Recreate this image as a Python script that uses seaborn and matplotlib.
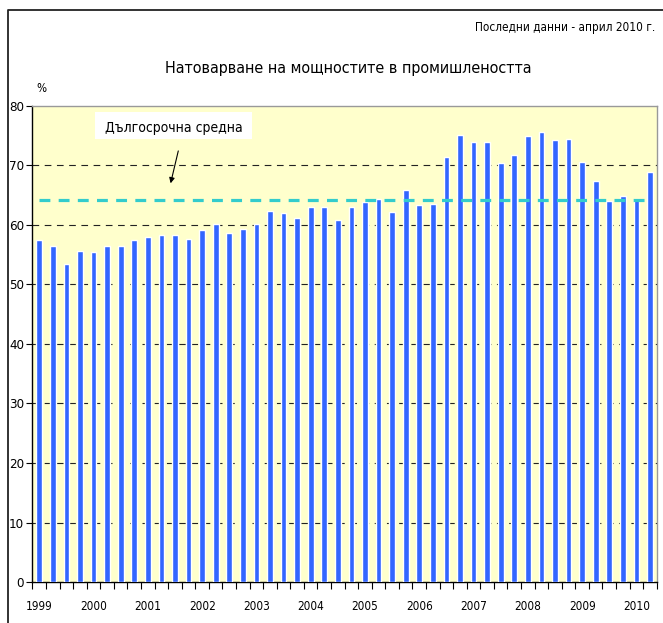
import matplotlib
matplotlib.use("Agg")
import matplotlib.pyplot as plt
import matplotlib.patches as mpatches
from matplotlib.lines import Line2D
import numpy as np
import pandas as pd
import seaborn as sns

# capacity utilisation in industry, quarterly, 1999 Q1 - 2010 Q2 (%)
years = [str(y) for y in range(1999, 2011)]
quarters = [f"{y}-Q{q}" for y in range(1999, 2011) for q in range(1, 5)][:46]
values = [57.5, 56.5, 53.4, 55.7, 55.4, 56.5, 56.5, 57.5,
          58.0, 58.4, 58.4, 57.7, 59.2, 60.2, 58.7, 59.4,
          60.2, 62.4, 62.0, 61.2, 63.1, 63.1, 60.9, 63.1,
          63.8, 64.4, 62.2, 65.8, 63.3, 63.6, 71.5, 75.1,
          74.0, 74.0, 70.5, 71.8, 75.0, 75.6, 74.3, 74.5,
          70.6, 67.4, 64.0, 64.8, 64.4, 68.9]
long_term_mean = 64.2

df = pd.DataFrame({"period": quarters, "value": values})

sns.set_theme(style="white")
plt.rcParams["font.family"] = ["DejaVu Sans"]
plt.rcParams["font.stretch"] = "condensed"

fig = plt.figure(figsize=(6.63, 6.23), dpi=100)
ax = fig.add_axes([0.049, 0.0658, 0.9416, 0.7641])
ax.set_facecolor("#FFFFCC")

sns.barplot(data=df, x="period", y="value", order=quarters, color="#3366FF",
            width=0.42, saturation=1, ax=ax, zorder=3)

# dashed gridlines
for v in range(10, 80, 10):
    ax.axhline(v, color="#222222", lw=0.8, ls=(0, (6, 5)), zorder=1)

# long-term average
ax.plot([0, len(values) - 1], [long_term_mean, long_term_mean], color="#33CCCC",
        lw=2.3, ls=(0, (3.4, 2.6)), zorder=4)

ax.set_xlim(-0.5, len(values) - 0.5)
ax.set_ylim(0, 80)
ax.set_yticks(range(0, 81, 10))
ax.set_xticks([4 * i for i in range(len(years))])
ax.set_xticklabels(years)
ax.set_xticks(np.arange(-0.5, len(values), 1), minor=True)
ax.tick_params(axis="x", which="major", length=0, pad=13, labelsize=8.5, colors="black")
ax.tick_params(axis="x", which="minor", length=5, width=0.8, direction="out", color="black", bottom=True)
ax.tick_params(axis="y", length=4, width=0.8, direction="out", left=True, labelsize=9.5, colors="black", pad=2)
ax.set_xlabel("")
ax.set_ylabel("")

for side in ["left", "bottom"]:
    ax.spines[side].set_color("black")
    ax.spines[side].set_linewidth(1.0)
for side in ["top", "right"]:
    ax.spines[side].set_color("#999999")
    ax.spines[side].set_linewidth(1.0)

# label box and arrow
ax.add_patch(mpatches.Rectangle((4.1, 74.45), 11.57, 4.55, facecolor="white",
                                edgecolor="none", zorder=5))
ax.text(9.93, 76.3, "Дългосрочна средна", ha="center", va="center",
        fontsize=10, color="black", zorder=6)
ax.annotate("", xy=(9.63, 66.55), xytext=(10.29, 72.9),
            arrowprops=dict(arrowstyle="-|>", color="black", lw=0.8,
                            mutation_scale=8), zorder=6)

fig.text(348 / 663, 1 - 68 / 623, "Натоварване на мощностите в промишлеността",
         ha="center", va="center", fontsize=11.5, color="black")
fig.text(655 / 663, 1 - 28 / 623, "Последни данни - април 2010 г.",
         ha="right", va="center", fontsize=8.5, color="black")
fig.text(41 / 663, 1 - 88 / 623, "%", ha="center", va="center", fontsize=8.5, color="black")

# outer chart frame
fig.add_artist(Line2D([8 / 663, 8 / 663, 1.0], [0.0, 1 - 10 / 623, 1 - 10 / 623],
                      transform=fig.transFigure, color="#222222", lw=1.3))

fig.savefig("out.png", dpi=100)
